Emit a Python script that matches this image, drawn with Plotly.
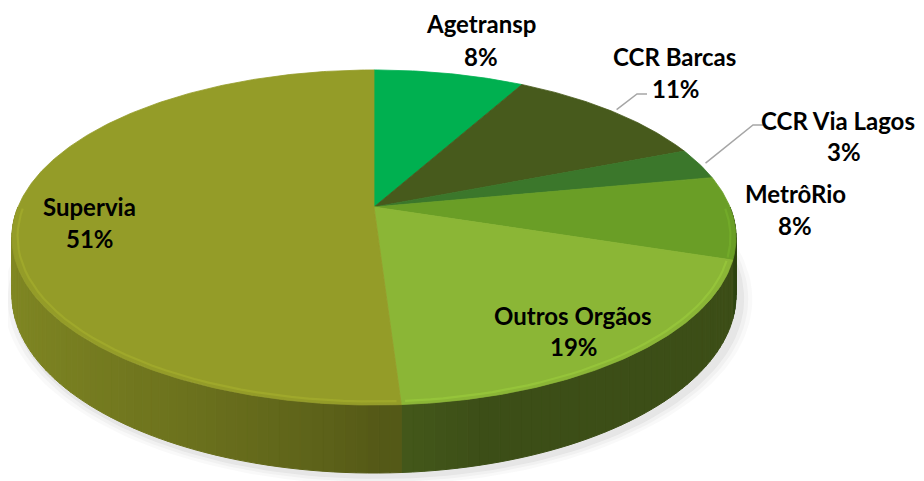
import numpy as np
import plotly.graph_objects as go

# ---------------- data ----------------
categories = ["Agetransp", "CCR Barcas", "CCR Via Lagos", "MetrôRio", "Outros Orgãos", "Supervia"]
values = [8, 11, 3, 8, 19, 51]
colors = ["#00B050", "#475A1C", "#3B772B", "#6A9E26", "#8BB636", "#949C28"]

# ---------------- layout / geometry (pixel-like axis units) ----------------
W, H = 924, 481
PAD = 8                    # page body margin
CX, CY = 374, 207          # projected pie centre
A, B, K = 356, 162, 0.182  # radii and perspective factor
D = 55.6                   # thickness

# (name x, name y, percent x, percent y)
label_pos = {
    "Agetransp": (481, 23, 481, 56),
    "CCR Barcas": (674, 56, 676, 88),
    "CCR Via Lagos": (838, 120, 844, 151),
    "MetrôRio": (795, 193, 795, 225),
    "Outros Orgãos": (573, 315, 574, 346),
    "Supervia": (89, 206, 90, 238),
}
leaders = {
    "CCR Barcas": [(637, 94), (647, 94)],
    "CCR Via Lagos": [(753, 125), (763, 125)],
}


def proj(theta, drop=0.0, r=1.0):
    u = np.sin(theta) * r
    v = np.cos(theta) * r
    s = 1.0 / (1.0 + K * v)
    return CX + A * u * s, CY - B * v * s + drop * s


def hex2rgb(h):
    h = h.lstrip("#")
    return [int(h[i:i + 2], 16) for i in (0, 2, 4)]


def shade(h, f):
    r, g, b = hex2rgb(h)
    c = [max(0, min(255, int(round(x * f)))) for x in (r, g, b)]
    return "rgb(%d,%d,%d)" % tuple(c)


fig = go.Figure()

# soft shadow under the pie
tt = np.linspace(0, 2 * np.pi, 241)
for e, op in [(12, 0.035), (8, 0.05), (4, 0.07)]:
    u = np.sin(tt)
    v = np.cos(tt)
    s = 1.0 / (1.0 + K * v)
    xs = CX + 4 + (A + e) * u * s
    ys = CY + 3 - (B + e * 0.6) * v * s + D * s
    fig.add_trace(go.Scatter(x=xs, y=ys, mode="lines", fill="toself",
                             fillcolor="rgba(90,90,90,%.3f)" % op, line=dict(width=0),
                             hoverinfo="skip", showlegend=False))

total = float(sum(values))
bounds = np.cumsum([0] + values) / total * 2 * np.pi

# side walls (visible front half)
lo, hi = np.pi / 2, 3 * np.pi / 2
for i, cat in enumerate(categories):
    t1, t2 = max(bounds[i], lo), min(bounds[i + 1], hi)
    if t2 <= t1:
        continue
    mid_slice = (bounds[i] + bounds[i + 1]) / 2
    n = max(1, int(np.ceil((t2 - t1) / np.radians(1.5))))
    edges = np.linspace(t1, t2, n + 1)
    for a1, a2 in zip(edges[:-1], edges[1:]):
        um = np.sin((a1 + a2) / 2)
        if mid_slice > np.pi:
            f = 0.57 + 0.30 * (max(0.0, -um)) ** 0.8
        else:
            f = 0.50 - 0.07 * min(1.0, max(0.0, um) / 0.25)
        col = shade(colors[i], f)
        arc = np.linspace(a1, a2, 4)
        xt, yt = proj(arc)
        xb, yb = proj(arc[::-1], drop=D)
        xs = np.concatenate([xt, xb, xt[:1]])
        ys = np.concatenate([yt, yb, yt[:1]])
        fig.add_trace(go.Scatter(x=xs, y=ys, mode="lines", fill="toself",
                                 fillcolor=col, line=dict(color=col, width=1),
                                 hoverinfo="skip", showlegend=False))

# top faces
for i, cat in enumerate(categories):
    arc = np.linspace(bounds[i], bounds[i + 1], max(3, int(values[i] * 6)))
    xa, ya = proj(arc)
    xs = np.concatenate([[CX], xa, [CX]])
    ys = np.concatenate([[CY], ya, [CY]])
    fig.add_trace(go.Scatter(x=xs, y=ys, mode="lines", fill="toself",
                             fillcolor=colors[i], line=dict(color=colors[i], width=0.8),
                             hoverinfo="skip", showlegend=False, name=cat))

# rim highlight on the front edge
for i, cat in enumerate(categories):
    t1, t2 = max(bounds[i], lo), min(bounds[i + 1], hi)
    if t2 <= t1:
        continue
    arc = np.linspace(t1 + 0.01, t2 - 0.01, 40)
    xa, ya = proj(arc, r=0.985)
    fig.add_trace(go.Scatter(x=xa, y=ya, mode="lines",
                             line=dict(color=shade(colors[i], 1.13), width=2.2),
                             opacity=0.6, hoverinfo="skip", showlegend=False))

# leader lines
for i, cat in enumerate(categories):
    if cat in leaders:
        mid = (bounds[i] + bounds[i + 1]) / 2
        x0, y0 = proj(mid, r=1.02)
        pts = [(x0, y0)] + leaders[cat]
        fig.add_trace(go.Scatter(x=[p[0] for p in pts], y=[p[1] for p in pts], mode="lines",
                                 line=dict(color="#A6A6A6", width=1.5),
                                 hoverinfo="skip", showlegend=False))

# labels
font = dict(family="Lato, 'Open Sans', sans-serif", size=24, color="#000000", weight="bold")
for i, cat in enumerate(categories):
    lx1, ly1, lx2, ly2 = label_pos[cat]
    pct = "%d%%" % round(values[i] / total * 100)
    fig.add_annotation(x=lx1, y=ly1, text=cat, showarrow=False, font=font,
                       xanchor="center", yanchor="middle")
    fig.add_annotation(x=lx2, y=ly2, text=pct, showarrow=False, font=font,
                       xanchor="center", yanchor="middle")

fig.update_layout(
    width=W - PAD, height=H - PAD,
    margin=dict(l=0, r=0, t=0, b=0),
    paper_bgcolor="white", plot_bgcolor="white",
    showlegend=False,
    xaxis=dict(range=[PAD, W], visible=False, fixedrange=True),
    yaxis=dict(range=[H, PAD], visible=False, fixedrange=True),
)

fig.write_html("out.html")
